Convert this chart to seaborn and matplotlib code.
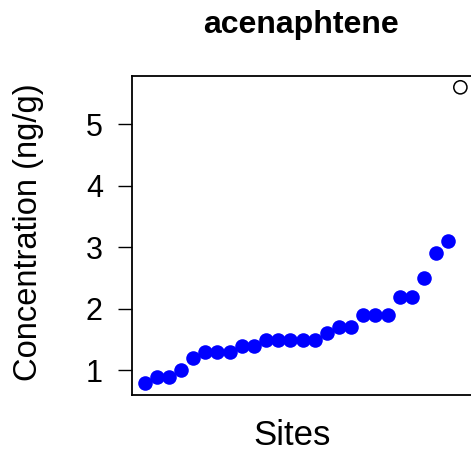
import matplotlib
matplotlib.use("Agg")
import matplotlib.pyplot as plt
import seaborn as sns
import pandas as pd
import numpy as np

# Data (sorted concentrations per site)
values = [0.8, 0.9, 0.9, 1.0, 1.2, 1.3, 1.3, 1.3, 1.4, 1.4, 1.5, 1.5, 1.5,
          1.5, 1.5, 1.6, 1.7, 1.7, 1.9, 1.9, 1.9, 2.2, 2.2, 2.5, 2.9, 3.1]
outlier_values = [5.6]
yticks = [1, 2, 3, 4, 5]
title = "acenaphtene"
xlabel = "Sites"
ylabel = "Concentration (ng/g)"

sns.set_theme(style="white")
plt.rcParams['font.family'] = ['Liberation Sans', 'DejaVu Sans']

all_vals = values + outlier_values
n = len(all_vals)
df = pd.DataFrame({"site": np.arange(1, n + 1), "conc": all_vals,
                   "kind": ["normal"] * len(values) + ["outlier"] * len(outlier_values)})

fig = plt.figure(figsize=(4.71, 4.59), dpi=100)
ax = fig.add_axes([132 / 471, 1 - 394.5 / 459, (473 - 132) / 471, (394.5 - 75.5) / 459])

sns.scatterplot(data=df[df.kind == "normal"], x="site", y="conc", ax=ax,
                color="#0000FF", s=110, edgecolor="#0000FF", linewidth=0, legend=False)
sns.scatterplot(data=df[df.kind == "outlier"], x="site", y="conc", ax=ax,
                facecolor="none", edgecolor="black", s=90, linewidth=1.1, legend=False)

rng = (n - 1) * 0.04
ax.set_xlim(1 - rng, n + rng)
ymin, ymax = min(all_vals), max(all_vals)
yr = (ymax - ymin) * 0.04
ax.set_ylim(ymin - yr, ymax + yr)

ax.set_xticks([])
ax.set_yticks(yticks)
ax.set_yticklabels([str(t) for t in yticks])
ax.tick_params(axis="y", left=True, length=10, width=1.0, pad=11, labelsize=22,
               color="black", labelcolor="black", direction="out")
ax.set_xlabel("")
ax.set_ylabel("")
for sp in ax.spines.values():
    sp.set_visible(True)
    sp.set_color("black")
    sp.set_linewidth(1.3)

fig.text(301 / 471, 1 - 33 / 459, title, ha="center", va="baseline",
         fontsize=23, fontweight="bold", color="black")
fig.text(291.7 / 471, 1 - 445 / 459, xlabel, ha="center", va="baseline",
         fontsize=25, color="black")
fig.text(29 / 471, 1 - 232.5 / 459, ylabel, ha="center", va="center",
         rotation=90, fontsize=23.5, color="black")

fig.savefig("out.png", dpi=100, facecolor="white")
